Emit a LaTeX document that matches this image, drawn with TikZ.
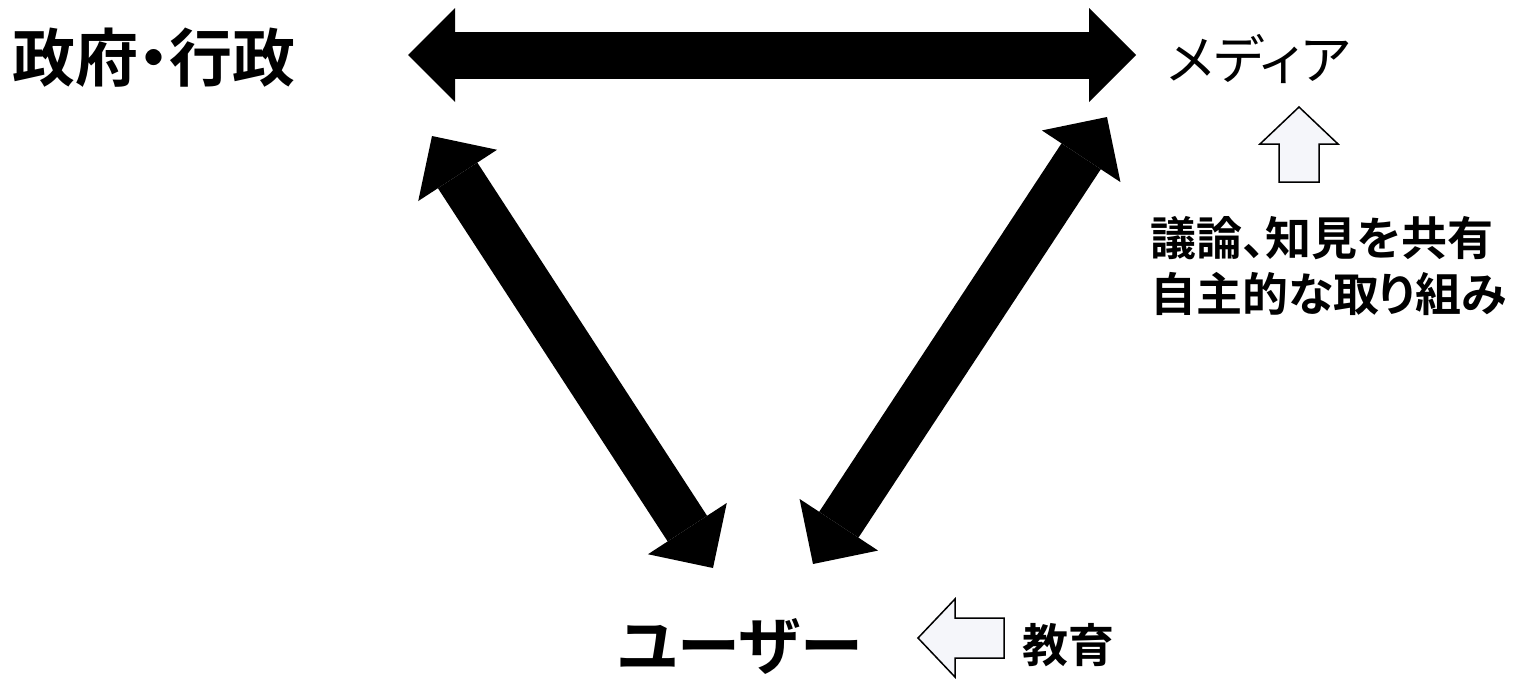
\documentclass[tikz,border=0pt]{standalone}
\usepackage{fontspec}
\usetikzlibrary{arrows.meta}
\newfontfamily\jp[RawFeature=+palt,BoldFont={Noto Sans CJK JP Bold}]{Noto Sans CJK JP}
\definecolor{hintfill}{HTML}{F5F6FA}
\tikzset{
  bigarrow/.style={line width=47pt, line cap=butt,
    {Triangle[length=0pt 1, width=0pt 2, line width=0pt]}-{Triangle[length=0pt 1, width=0pt 2, line width=0pt]}},
  lab/.style={inner sep=0pt, font=\jp\bfseries\fontsize{63}{66}\selectfont},
  labreg/.style={inner sep=0pt, font=\jp\fontsize{53}{60}\selectfont},
  smalllab/.style={inner sep=0pt, font=\jp\bfseries\fontsize{46}{56}\selectfont, align=left},
  hint/.style={fill=hintfill, draw=black, line width=1.5pt, line join=miter}
}
\begin{document}
\begin{tikzpicture}[x=1pt,y=-1pt]
\useasboundingbox (0,0) rectangle (1516,678);
% labels
\node[lab] (gov) at (154,58) {政府・行政};
\node[labreg] (media) at (1259,59) {メディア};
\node[lab] (user) at (740,646) {ユーザー};
\node[smalllab, anchor=west] (share) at (1150,266) {議論、知見を共有\\自主的な取り組み};
\node[smalllab] (edu) at (1068,645) {教育};
% arrow end points
\coordinate (gR) at (408,55);
\coordinate (mL) at (1136,55);
\coordinate (gD) at (432,136);
\coordinate (uL) at (713,568);
\coordinate (mD) at (1107,117);
\coordinate (uR) at (813,564);
\draw[bigarrow] (gR) -- (mL);
\draw[bigarrow] (gD) -- (uL);
\draw[bigarrow] (mD) -- (uR);
% small hollow arrows
\draw[hint] (1299,107) -- (1338,144) -- (1319,144) -- (1319,182) -- (1279,182) -- (1279,144) -- (1260,144) -- cycle;
\draw[hint] (918,638) -- (955,599) -- (955,618) -- (1004,618) -- (1004,658) -- (955,658) -- (955,677) -- cycle;
\end{tikzpicture}
\end{document}
